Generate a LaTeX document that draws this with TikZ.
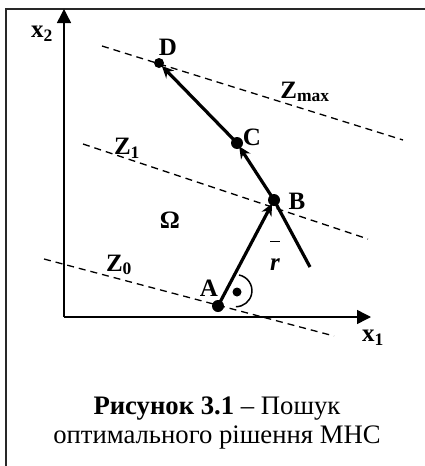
\documentclass[tikz,border=0pt]{standalone}
\usepackage{fontspec}
\setmainfont{Liberation Serif}
\usepackage{xcolor}
\definecolor{inkblack}{RGB}{0, 0, 0}
\definecolor{framegray}{RGB}{40, 40, 40}
\usepackage{tikz}
\usetikzlibrary{arrows.meta, positioning, calc}

\begin{document}
\begin{tikzpicture}[x=1pt, y=-1pt, >=Stealth,
    axis/.style={line width=1.5pt, inkblack, -{Triangle[length=14pt, width=14pt]}},
    level/.style={line width=1.3pt, dashed, dash pattern=on 7pt off 5pt},
    move/.style={line width=3.2pt, ->, shorten >=4pt, >={Stealth[length=12pt, width=11pt]}},
    lbl/.style={font=\fontsize{25}{28}\selectfont\bfseries, inner sep=0pt},
    pt/.style={circle, fill=inkblack, inner sep=0pt, minimum size=#1}]
    \useasboundingbox (0,0) rectangle (425,466);
    % frame
    \draw[line width=1.8pt, framegray] (6,466) -- (6,9) -- (425,9);
    % axes
    \coordinate (O) at (64,317);
    \coordinate (X1end) at (371,317);
    \coordinate (X2end) at (64,9);
    \draw[axis] (O) -- (X1end);
    \draw[axis] (O) -- (X2end);
    \node[lbl] (x1) at (373,338) {x\textsubscript{1}};
    \node[lbl] (x2) at (42,34) {x\textsubscript{2}};
    % level lines of the goal function
    \draw[level] (102,46) -- (403,140);
    \draw[level] (83,144) -- (368,239);
    \draw[level] (44,259) -- (334,336);
    \node[lbl] (zmax) at (305,92) {Z\textsubscript{max}};
    \node[lbl] (z1) at (127,148) {Z\textsubscript{1}};
    \node[lbl] (z0) at (119,265) {Z\textsubscript{0}};
    \node[lbl] (omega) at (170,220) {Ω};
    % search points
    \node[pt=12pt] (A) at (218,306) {};
    \node[pt=12pt] (B) at (274,200) {};
    \node[pt=12pt] (C) at (237,143) {};
    \node[pt=10pt] (D) at (159,63) {};
    \coordinate (Bend) at (310,267);
    \draw[move] (A.center) -- (B.center);
    \draw[move] (B.center) -- (C.center);
    \draw[move] (C.center) -- (D.center);
    \draw[line width=3.2pt] (B.center) -- (Bend);
    \node[lbl] (Alab) at (209,288) {A};
    \node[lbl] (Blab) at (297,201) {B};
    \node[lbl] (Clab) at (252,137) {C};
    \node[lbl] (Dlab) at (168,47) {D};
    \node[lbl, anchor=base] (rlab) at (275,270) {$\overline{\rule{0pt}{27pt}\textbf{\textit{r}}}$};
    % right angle mark
    \draw[line width=1.5pt] (239,275) arc[start angle=-79, end angle=90, radius=16];
    \node[pt=9pt] (dot) at (237,292) {};
    % caption
    \node[align=center, font=\fontsize{26.7}{29}\selectfont] (cap) at (217,423)
        {\textbf{Рисунок 3.1} – Пошук\\оптимального рішення МНС};
\end{tikzpicture}
\end{document}
